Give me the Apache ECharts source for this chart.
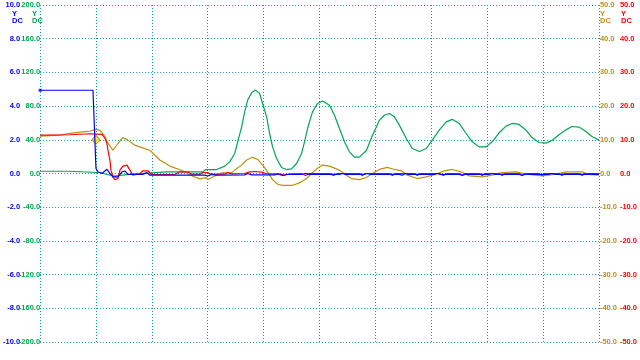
<!DOCTYPE html>
<html>
<head>
<meta charset="utf-8">
<script src="https://cdn.jsdelivr.net/npm/echarts@6/dist/echarts.min.js"></script>
<style>
  html, body { margin: 0; padding: 0; background: #fff; }
  #chart { width: 640px; height: 360px; }
</style>
</head>
<body>
<div id="chart"></div>
<script>
// sample index 0..560, 56 samples per division
var xMin = 0, xMax = 560, xStep = 56;

// channel axes: [min, max, step]
var blueRange = [-10, 10, 2];
var greenRange = [-200, 200, 40];
var goldRange = [-50, 50, 10];
var redRange = [-50, 50, 10];

// green channel (ringing)
var greenData = [
  [0, 2.7], [27, 2.7], [28, 1.2], [60, 1.2], [67, -1.2], [75, -3.2], [82, -2], [90, -1],
  [127, 1.9], [163, 1.9], [166, 4.7], [177, 4.7], [185, 8.7], [190, 13.8], [195, 23.7],
  [198, 37.6], [202, 55.4], [205, 73.2], [208, 87.1], [212, 95.8], [216, 99], [220, 95],
  [223, 83.1], [227, 67.3], [230, 47.5], [233, 31.6], [237, 17.8], [242, 7.1], [247, 4.7],
  [252, 5.5], [257, 11.9], [262, 23.7], [265, 37.6], [268, 53.4], [273, 73.2], [278, 83.1],
  [283, 86.1], [290, 81], [295, 69.1], [300, 53.4], [305, 37.6], [310, 25.7], [315, 19.4],
  [320, 19.4], [327, 27.3], [333, 45.1], [340, 63], [345, 69.1], [350, 71.2], [355, 67.3],
  [360, 57.4], [367, 41.5], [373, 29.7], [380, 26.1], [387, 29.7], [393, 39.6], [400, 51.5],
  [407, 61.3], [413, 64.3], [420, 59.4], [427, 47.5], [433, 37.6], [440, 31.6], [447, 31.6],
  [453, 37.6], [460, 48.3], [467, 56.2], [473, 59.4], [480, 58.2], [487, 51.4], [493, 42.7],
  [500, 36.8], [507, 36.0], [513, 39.1], [520, 45.9], [527, 51.8], [533, 55.8], [540, 55.1],
  [547, 49.9], [553, 43.9], [560, 39.6]
];

// gold channel
var goldData = [
  [0, 11.1], [20, 11.4], [30, 11.9], [40, 12.3], [50, 12.6], [56, 13.1], [60, 12.8],
  [64, 11.4], [68, 9.0], [73, 6.9], [78, 8.9], [83, 10.7], [88, 9.9], [95, 8.4], [100, 7.9],
  [105, 7.4], [110, 6.9], [115, 5.5], [120, 4.0], [130, 2.2], [143, 0.8], [153, -0.8],
  [160, -1.6], [166, -1.2], [168, -1.8], [172, -1.2], [182, 0.2], [192, 0.2], [195, 1.0],
  [202, 2.5], [207, 4.0], [213, 4.8], [218, 4.2], [223, 2.5], [228, 0.5], [233, -1.8],
  [238, -3.2], [243, -3.5], [253, -3.5], [260, -2.8], [267, -1.5], [272, 0], [277, 1.3],
  [283, 2.5], [290, 2.2], [300, 1.0], [307, -0.5], [312, -1.5], [320, -1.8], [327, -1.2],
  [333, 0], [340, 1.2], [348, 1.8], [355, 1.2], [362, 0.8], [368, -0.5], [378, -1.5],
  [387, -1.0], [397, -0.2], [405, 0.8], [413, 1.2], [422, 0.5], [430, -0.7], [443, -1.0],
  [453, -0.5], [463, 0.3], [477, 0.5], [490, -0.3], [503, -0.7], [517, -0.2], [527, 0.5],
  [543, 0.5], [550, -0.3], [560, -0.5]
];

// red channel
var redData = [
  [0, 11.4], [30, 11.5], [50, 11.8], [62, 11.6], [65, 10.5], [67, 8.9], [68, 6.9], [70, 3.9],
  [71, 1.0], [73, -1.0], [75, -1.8], [78, -1.5], [80, 1.0], [83, 2.2], [87, 2.5], [90, 1.0],
  [93, -0.5], [100, 0], [103, 0.8], [108, 0.8], [112, -0.3], [135, -0.3], [140, 0.5],
  [148, 0.5], [152, -0.2], [160, -0.2], [163, 0.3], [168, 0.3], [171, -0.2], [185, -0.2],
  [188, 0.3], [192, -0.1], [205, 0], [210, 0.5], [215, 0.6], [222, 0.4], [226, 0], [240, -0.2],
  [245, -0.5], [250, -0.1], [262, 0], [266, -0.6], [270, 0], [290, 0], [294, -0.6], [298, 0],
  [320, 0], [323, -0.6], [326, 0], [350, 0], [353, -0.6], [356, 0], [375, 0], [378, -0.6],
  [381, 0], [400, 0], [404, -0.6], [408, 0], [420, 0], [423, -0.6], [426, 0], [440, 0],
  [443, -0.6], [446, 0], [460, 0], [463, -0.6], [466, 0], [480, 0], [483, -0.6], [486, 0],
  [500, 0], [503, -0.6], [506, 0], [520, 0], [523, -0.6], [526, 0], [540, 0], [543, -0.6],
  [546, 0], [560, 0]
];

// blue channel (step down)
var blueData = [
  [0, 4.94], [53, 4.94], [54, 5.02], [55, 4.9], [56, 0.3], [58, 0.1], [62, 0], [67, 0.25],
  [70, 0], [73, -0.2], [78, -0.2], [82, 0.1], [85, 0.15], [88, -0.05], [103, -0.05],
  [107, 0.05], [110, -0.1], [140, -0.1], [142, 0], [146, -0.1], [165, -0.1], [168, -0.15],
  [172, -0.05], [176, -0.1], [205, -0.08], [208, 0], [212, -0.08], [235, -0.08], [238, -0.02],
  [243, -0.12], [247, -0.06], [262, -0.06], [266, 0], [270, -0.05], [300, -0.05], [303, 0],
  [306, -0.05], [325, -0.05], [328, 0], [331, -0.05], [360, -0.05], [363, -0.1], [366, 0],
  [369, -0.05], [395, -0.05], [398, 0], [401, -0.05], [420, -0.05], [423, -0.1], [426, -0.05],
  [450, -0.05], [453, 0], [456, -0.05], [480, -0.05], [483, -0.1], [486, -0.05], [510, -0.05],
  [513, 0], [516, -0.05], [560, -0.05]
];

var triggerPoint = [[56, 2.0]];
var blueStart = [[0, 4.94]];

var BLUE = '#0000ff', GREEN = '#00a651', GOLD = '#c09010', RED = '#ff0000';
var GRIDC = '#1a94a8';
var labelFont = 'Liberation Sans';

function yAx(range, color, pos, offset, split) {
  return {
    type: 'value', position: pos, offset: offset,
    min: range[0], max: range[1], interval: range[2],
    axisLine: { show: false }, axisTick: { show: false },
    axisLabel: {
      color: color, fontSize: 7.5, fontWeight: 'bold', fontFamily: labelFont,
      margin: pos === 'left' ? 0 : 1,
      formatter: function (v) { return v.toFixed(1); }
    },
    splitLine: { show: split, lineStyle: { color: GRIDC, type: [1, 2], width: 1 } }
  };
}

function tag(x, color) {
  return {
    type: 'text', left: x, top: 9.5,
    style: { text: 'Y\nDC', fill: color, font: 'bold 7.5px ' + labelFont, lineHeight: 7.3 }
  };
}

var myChart = echarts.init(document.getElementById('chart'));
myChart.setOption({
  animation: false,
  backgroundColor: '#fff',
  grid: { left: 40, right: 40, top: 5, bottom: 18 },
  xAxis: {
    type: 'value', min: xMin, max: xMax, interval: xStep,
    axisLine: { show: false }, axisTick: { show: false }, axisLabel: { show: false },
    splitLine: { show: true, lineStyle: { color: GRIDC, type: [1, 2], width: 1 } }
  },
  yAxis: [
    yAx(blueRange, BLUE, 'left', 20, true),
    yAx(greenRange, GREEN, 'left', 0, false),
    yAx(goldRange, GOLD, 'right', 0, false),
    yAx(redRange, RED, 'right', 20, false)
  ],
  graphic: [tag(12, BLUE), tag(32, GREEN), tag(600, GOLD), tag(621, RED)],
  series: [
    { type: 'line', yAxisIndex: 1, data: greenData, symbol: 'none', lineStyle: { color: GREEN, width: 1.2 } },
    { type: 'line', yAxisIndex: 2, data: goldData, symbol: 'none', lineStyle: { color: GOLD, width: 1.2 } },
    { type: 'line', yAxisIndex: 3, data: redData, symbol: 'none', lineStyle: { color: RED, width: 1.2 } },
    { type: 'line', yAxisIndex: 0, data: blueData, symbol: 'none', lineStyle: { color: BLUE, width: 1.2 } },
    { type: 'scatter', yAxisIndex: 0, data: blueStart, symbol: 'rect', symbolSize: 3, itemStyle: { color: BLUE } },
    { type: 'scatter', yAxisIndex: 0, data: triggerPoint, symbol: 'diamond', symbolSize: [8, 9],
      itemStyle: { color: '#ffe600', borderColor: '#a08000', borderWidth: 1 } }
  ]
});
</script>
</body>
</html>
